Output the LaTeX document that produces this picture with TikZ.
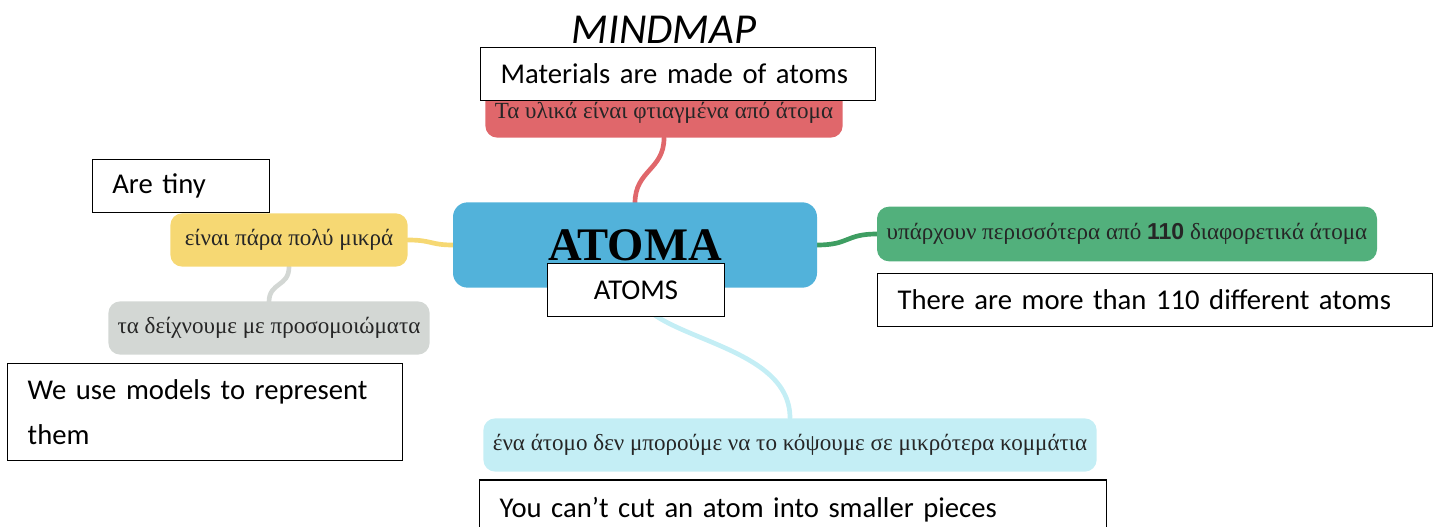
\documentclass[tikz,border=0pt]{standalone}
\usepackage{fontspec}
\setmainfont{Carlito}[WordSpace=0.7]
\newfontfamily\greekserif{Liberation Serif}
\newfontfamily\numsans{Liberation Sans}
\usepackage{xcolor}
\usepackage{tikz}
\usetikzlibrary{positioning}
\definecolor{mmblue}{HTML}{52B2DA}
\definecolor{mmred}{HTML}{E0676B}
\definecolor{mmyellow}{HTML}{F6D873}
\definecolor{mmgrey}{HTML}{D3D7D4}
\definecolor{mmgreen}{HTML}{52B07C}
\definecolor{mmgreenline}{HTML}{3E9E62}
\definecolor{mmcyan}{HTML}{C4EEF5}
\definecolor{mmtext}{HTML}{262626}
\newcommand{\entext}{\fontsize{21.5}{34}\selectfont}
\newcommand{\grtext}{\greekserif\fontsize{17.3}{20}\selectfont}

\begin{document}
\begin{tikzpicture}[x=0.75pt,y=-0.75pt,
    blob/.style={rounded corners=9pt,text=mmtext,font=\grtext,minimum height=40pt,inner sep=2pt},
    enbox/.style={draw,line width=1pt,fill=white,align=left,inner xsep=15pt,minimum height=40pt,font=\entext},
    link/.style={line width=3.5pt,line cap=round}]
  \useasboundingbox (0,0) rectangle (1434,527);
  \node (title) at (664,30) {\fontsize{32}{36}\selectfont\itshape MINDMAP};
  % branches first, so the boxes sit on top
  \coordinate (c-made) at (664,138);
  \coordinate (c-core) at (635,203);
  \draw[link,mmred] (c-made) .. controls (664,170) and (635,170) .. (c-core);
  \coordinate (c-tiny) at (408,240);
  \coordinate (c-corew) at (453,245);
  \draw[link,mmyellow] (c-tiny) .. controls (432,240) and (430,245) .. (c-corew);
  \coordinate (c-tinys) at (289,267);
  \coordinate (c-models) at (269,302);
  \draw[link,mmgrey] (c-tinys) .. controls (289,287) and (269,282) .. (c-models);
  \coordinate (c-coree) at (817,245);
  \coordinate (c-types) at (877,234);
  \draw[link,mmgreenline] (c-coree) .. controls (850,245) and (845,234) .. (c-types);
  \coordinate (c-cores) at (635,288);
  \coordinate (c-uncut) at (790,418);
  \draw[link,mmcyan] (c-cores) .. controls (640,340) and (790,340) .. (c-uncut);
  % mind map nodes
  \node[blob,fill=mmred,minimum width=268pt,minimum height=37pt] (made) at (664,113) {Τα υλικά είναι φτιαγμένα από άτομα};
  \node[blob,fill=mmblue,minimum width=273pt,minimum height=64pt,rounded corners=11pt,font=\greekserif\bfseries\fontsize{35}{40}\selectfont,text=black] (core) at (635,245) {ΑΤΟΜΑ};
  \node[blob,fill=mmyellow,minimum width=178pt] (tiny) at (289,240) {είναι πάρα πολύ μικρά};
  \node[blob,fill=mmgrey,minimum width=241pt] (models) at (269,328) {τα δείχνουμε με προσομοιώματα};
  \node[blob,fill=mmgreen,minimum width=375pt,minimum height=41pt] (types) at (1127,234) {υπάρχουν περισσότερα από {\numsans\bfseries 110} διαφορετικά άτομα};
  \node[blob,fill=mmcyan,minimum width=460pt] (uncut) at (790,445) {ένα άτομο δεν μπορούμε να το κόψουμε σε μικρότερα κομμάτια};
  % english boxes
  \node[enbox,text width=266pt] (made-en) at (678,74) {Materials are made of atoms};
  \node[enbox,text width=103pt,align=center] (core-en) at (636,290) {ATOMS};
  \node[enbox,text width=103pt] (tiny-en) at (181,186) {Are tiny};
  \node[enbox,text width=266pt,minimum height=73pt] (models-en) at (205,412) {We use models to represent\\them};
  \node[enbox,text width=386pt] (types-en) at (1155,300) {There are more than 110 different atoms};
  \node[enbox,text width=440pt,minimum height=45pt] (uncut-en) at (793,510) {You can’t cut an atom into smaller pieces};
\end{tikzpicture}
\end{document}
